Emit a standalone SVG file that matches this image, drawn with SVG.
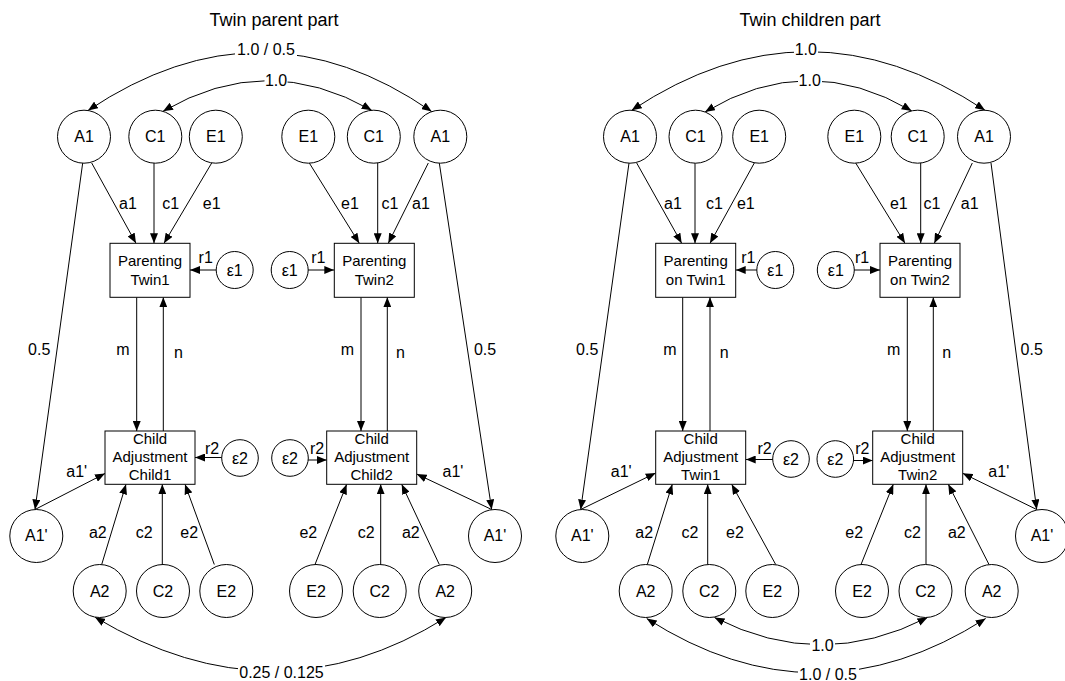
<svg xmlns="http://www.w3.org/2000/svg" width="1065" height="681" viewBox="0 0 1065 681">
  <style>
    .n { fill: #fff; stroke: #000; stroke-width: 1; }
    .c { fill: none; stroke: #000; stroke-width: 1; }
    .a { marker-end: url(#ah); }
    .b { marker-start: url(#ah); marker-end: url(#ah); }
    .bg { fill: #fff; stroke: none; }
    text { font-family: "Liberation Sans", Arial, sans-serif; fill: #000; }
    .t { font-size: 18px; text-anchor: middle; }
    .l { font-size: 16px; text-anchor: middle; }
    .bx { font-size: 15px; text-anchor: middle; }
  </style>
  <defs>
    <marker id="ah" viewBox="0 0 10 8" refX="10" refY="4" markerWidth="10" markerHeight="8" markerUnits="userSpaceOnUse" orient="auto-start-reverse">
      <path d="M0,0 L10,4 L0,8 z" fill="#000"/>
    </marker>
  </defs>

  <rect width="1065" height="681" fill="#fff"/>

  <!-- headings -->
  <text class="t" x="274" y="26">Twin parent part</text>
  <text class="t" x="810" y="26">Twin children part</text>

  <!-- paths between variables -->
  <g id="connectors">
    <!-- left model -->
    <path class="c b" d="M88,110.5 Q262,-6 431.7,111.6"/>
    <path class="c b" d="M163,111.3 Q267,50.6 371.7,110.3"/>
    <path class="c a" d="M91.7,163 L136,243.3"/>
    <path class="c a" d="M154,163 L154,243.3"/>
    <path class="c a" d="M211.7,163 L164,243.3"/>
    <path class="c a" d="M309.3,163 L359.3,243.3"/>
    <path class="c a" d="M377.7,163 L377.7,243.3"/>
    <path class="c a" d="M428.3,163 L388.3,243.3"/>
    <path class="c a" d="M82.7,163 L35,509.5"/>
    <path class="c a" d="M439.3,163 L491.7,509.5"/>
    <path class="c a" d="M216.2,270 L190,270"/>
    <path class="c a" d="M271.2,270 L334.3,270"/>
    <path class="c a" d="M136.7,297.3 L136.7,431"/>
    <path class="c a" d="M163.3,431 L163.3,297.3"/>
    <path class="c a" d="M361,297.3 L361,431"/>
    <path class="c a" d="M387.3,431 L387.3,297.3"/>
    <path class="c a" d="M221.7,457.5 L195,457.5"/>
    <path class="c a" d="M290,460 L326.7,460"/>
    <path class="c a" d="M35,509.5 L105,473.5"/>
    <path class="c a" d="M491.7,509.5 L416.7,474"/>
    <path class="c a" d="M101.7,564.5 L126,484.3"/>
    <path class="c a" d="M162.3,564.5 L162.3,484.3"/>
    <path class="c a" d="M214.3,564.5 L185,484.3"/>
    <path class="c a" d="M315,564.5 L346.7,484.3"/>
    <path class="c a" d="M380.7,564.5 L380.7,484.3"/>
    <path class="c a" d="M439.3,564.5 L401.7,484.3"/>
    <path class="c b" d="M95,617.2 Q275,724.6 446,617.5"/>

    <!-- right model -->
    <path class="c b" d="M631.7,110.3 Q808,-6.9 985,110.3"/>
    <path class="c b" d="M705,112 Q808,49.9 911.7,110.9"/>
    <path class="c a" d="M636.7,163 L681.7,243.3"/>
    <path class="c a" d="M695,163 L695,243.3"/>
    <path class="c a" d="M754.3,163 L710,243.3"/>
    <path class="c a" d="M855.7,163 L905,243.3"/>
    <path class="c a" d="M920.7,163 L920.7,243.3"/>
    <path class="c a" d="M972.3,163 L934.3,243.3"/>
    <path class="c a" d="M629,163 L580.7,509.5"/>
    <path class="c a" d="M991,163 L1036.7,509.5"/>
    <path class="c a" d="M775.3,270 L735.7,270"/>
    <path class="c a" d="M835.8,270 L880,270"/>
    <path class="c a" d="M682.7,297.3 L682.7,431"/>
    <path class="c a" d="M710,431 L710,297.3"/>
    <path class="c a" d="M907.3,297.3 L907.3,431"/>
    <path class="c a" d="M933.3,431 L933.3,297.3"/>
    <path class="c a" d="M791,459.5 L745.7,459.5"/>
    <path class="c a" d="M835.3,460.5 L872.7,460.5"/>
    <path class="c a" d="M580.7,509.5 L655.7,473"/>
    <path class="c a" d="M1036.7,509.5 L962.7,473.3"/>
    <path class="c a" d="M647.3,564.5 L672.3,484.3"/>
    <path class="c a" d="M707.7,564.5 L707.7,484.3"/>
    <path class="c a" d="M775.7,564.5 L731.7,484.3"/>
    <path class="c a" d="M861,564.5 L893.3,484.3"/>
    <path class="c a" d="M926,564.5 L926,484.3"/>
    <path class="c a" d="M989,564.5 L948.3,484.3"/>
    <path class="c b" d="M714.5,617.5 Q821,672 927.5,617.5"/>
    <path class="c b" d="M646.7,618.5 Q816,727 985.7,618.5"/>
  </g>

  <!-- left model variables -->
  <g id="L-A1a"><circle class="n" cx="84" cy="136.7" r="26.5"/><text class="l" x="84" y="142">A1</text></g>
  <g id="L-C1a"><circle class="n" cx="155.3" cy="136.7" r="26.5"/><text class="l" x="155.3" y="142">C1</text></g>
  <g id="L-E1a"><circle class="n" cx="215.8" cy="136.7" r="26.5"/><text class="l" x="215.8" y="142">E1</text></g>
  <g id="L-E1b"><circle class="n" cx="308.3" cy="136.7" r="26.5"/><text class="l" x="308.3" y="142">E1</text></g>
  <g id="L-C1b"><circle class="n" cx="373.8" cy="136.7" r="26.5"/><text class="l" x="373.8" y="142">C1</text></g>
  <g id="L-A1b"><circle class="n" cx="440.3" cy="136.7" r="26.5"/><text class="l" x="440.3" y="142">A1</text></g>
  <g id="L-P1"><rect class="n" x="110" y="243.3" width="80" height="54"/><text class="bx" x="150" y="265.5">Parenting</text><text class="bx" x="150" y="285">Twin1</text></g>
  <g id="L-P2"><rect class="n" x="334.3" y="243.3" width="80" height="54"/><text class="bx" x="374.3" y="265.5">Parenting</text><text class="bx" x="374.3" y="285">Twin2</text></g>
  <g id="L-eps1a"><circle class="n" cx="234.7" cy="270" r="18.5"/><text class="l" x="234.7" y="275.5">ε1</text></g>
  <g id="L-eps1b"><circle class="n" cx="289.7" cy="270" r="18.5"/><text class="l" x="289.7" y="275.5">ε1</text></g>
  <g id="L-CA1"><rect class="n" x="105" y="431" width="90" height="53.3"/><text class="bx" x="150" y="444.3">Child</text><text class="bx" x="150" y="462.3">Adjustment</text><text class="bx" x="150" y="480.3">Child1</text></g>
  <g id="L-CA2"><rect class="n" x="326.7" y="431" width="90" height="53.3"/><text class="bx" x="371.7" y="444.3">Child</text><text class="bx" x="371.7" y="462.3">Adjustment</text><text class="bx" x="371.7" y="480.3">Child2</text></g>
  <g id="L-eps2a"><circle class="n" cx="240" cy="458" r="18.3"/><text class="l" x="240" y="463.5">ε2</text></g>
  <g id="L-eps2b"><circle class="n" cx="290" cy="458" r="18.3"/><text class="l" x="290" y="463.5">ε2</text></g>
  <g id="L-A1pa"><circle class="n" cx="36.3" cy="536" r="26.5"/><text class="l" x="36.3" y="541.3">A1'</text></g>
  <g id="L-A1pb"><circle class="n" cx="495" cy="536" r="26.5"/><text class="l" x="495" y="541.3">A1'</text></g>
  <g id="L-A2a"><circle class="n" cx="99.7" cy="591" r="26.5"/><text class="l" x="99.7" y="596.5">A2</text></g>
  <g id="L-C2a"><circle class="n" cx="163" cy="591" r="26.5"/><text class="l" x="163" y="596.5">C2</text></g>
  <g id="L-E2a"><circle class="n" cx="226.3" cy="591" r="26.5"/><text class="l" x="226.3" y="596.5">E2</text></g>
  <g id="L-E2b"><circle class="n" cx="316" cy="591" r="26.5"/><text class="l" x="316" y="596.5">E2</text></g>
  <g id="L-C2b"><circle class="n" cx="379.7" cy="591" r="26.5"/><text class="l" x="379.7" y="596.5">C2</text></g>
  <g id="L-A2b"><circle class="n" cx="445.2" cy="591" r="26.5"/><text class="l" x="445.2" y="596.5">A2</text></g>

  <!-- right model variables -->
  <g id="R-A1a"><circle class="n" cx="630" cy="136.7" r="26.5"/><text class="l" x="630" y="142">A1</text></g>
  <g id="R-C1a"><circle class="n" cx="695.5" cy="136.7" r="26.5"/><text class="l" x="695.5" y="142">C1</text></g>
  <g id="R-E1a"><circle class="n" cx="759.2" cy="136.7" r="26.5"/><text class="l" x="759.2" y="142">E1</text></g>
  <g id="R-E1b"><circle class="n" cx="854.3" cy="136.7" r="26.5"/><text class="l" x="854.3" y="142">E1</text></g>
  <g id="R-C1b"><circle class="n" cx="917.7" cy="136.7" r="26.5"/><text class="l" x="917.7" y="142">C1</text></g>
  <g id="R-A1b"><circle class="n" cx="984" cy="136.7" r="26.5"/><text class="l" x="984" y="142">A1</text></g>
  <g id="R-P1"><rect class="n" x="655.7" y="243.3" width="80" height="54"/><text class="bx" x="695.7" y="265.5">Parenting</text><text class="bx" x="695.7" y="285">on Twin1</text></g>
  <g id="R-P2"><rect class="n" x="880" y="243.3" width="80" height="54"/><text class="bx" x="920" y="265.5">Parenting</text><text class="bx" x="920" y="285">on Twin2</text></g>
  <g id="R-eps1a"><circle class="n" cx="775.3" cy="270" r="18.5"/><text class="l" x="775.3" y="275.5">ε1</text></g>
  <g id="R-eps1b"><circle class="n" cx="835.8" cy="270" r="18.5"/><text class="l" x="835.8" y="275.5">ε1</text></g>
  <g id="R-CA1"><rect class="n" x="655.7" y="431" width="90" height="53.3"/><text class="bx" x="700.7" y="444.3">Child</text><text class="bx" x="700.7" y="462.3">Adjustment</text><text class="bx" x="700.7" y="480.3">Twin1</text></g>
  <g id="R-CA2"><rect class="n" x="872.7" y="431" width="90" height="53.3"/><text class="bx" x="917.7" y="444.3">Child</text><text class="bx" x="917.7" y="462.3">Adjustment</text><text class="bx" x="917.7" y="480.3">Twin2</text></g>
  <g id="R-eps2a"><circle class="n" cx="791" cy="459" r="18.3"/><text class="l" x="791" y="464.5">ε2</text></g>
  <g id="R-eps2b"><circle class="n" cx="835.3" cy="459" r="18.3"/><text class="l" x="835.3" y="464.5">ε2</text></g>
  <g id="R-A1pa"><circle class="n" cx="582.3" cy="536" r="26.5"/><text class="l" x="582.3" y="541.3">A1'</text></g>
  <g id="R-A1pb"><circle class="n" cx="1042" cy="536" r="26.5"/><text class="l" x="1042" y="541.3">A1'</text></g>
  <g id="R-A2a"><circle class="n" cx="645.7" cy="591" r="26.5"/><text class="l" x="645.7" y="596.5">A2</text></g>
  <g id="R-C2a"><circle class="n" cx="709.3" cy="591" r="26.5"/><text class="l" x="709.3" y="596.5">C2</text></g>
  <g id="R-E2a"><circle class="n" cx="772.3" cy="591" r="26.5"/><text class="l" x="772.3" y="596.5">E2</text></g>
  <g id="R-E2b"><circle class="n" cx="862" cy="591" r="26.5"/><text class="l" x="862" y="596.5">E2</text></g>
  <g id="R-C2b"><circle class="n" cx="925.5" cy="591" r="26.5"/><text class="l" x="925.5" y="596.5">C2</text></g>
  <g id="R-A2b"><circle class="n" cx="991.7" cy="591" r="26.5"/><text class="l" x="991.7" y="596.5">A2</text></g>

  <!-- path coefficients -->
  <g id="connector-labels">
    <rect class="bg" x="235" y="42" width="62" height="15"/>
    <text class="l" x="266" y="55">1.0 / 0.5</text>
    <rect class="bg" x="264.5" y="73" width="23" height="14"/>
    <text class="l" x="276" y="85.7">1.0</text>
    <text class="l" x="128" y="209">a1</text>
    <text class="l" x="170.8" y="209">c1</text>
    <text class="l" x="211.7" y="209">e1</text>
    <text class="l" x="350" y="209">e1</text>
    <text class="l" x="390" y="209">c1</text>
    <text class="l" x="421" y="209">a1</text>
    <text class="l" x="205.7" y="263">r1</text>
    <text class="l" x="318.3" y="263">r1</text>
    <text class="l" x="39.2" y="355">0.5</text>
    <text class="l" x="485" y="355">0.5</text>
    <text class="l" x="123" y="355">m</text>
    <text class="l" x="178.5" y="357.5">n</text>
    <text class="l" x="347.5" y="355">m</text>
    <text class="l" x="400.5" y="357.5">n</text>
    <text class="l" x="212" y="454">r2</text>
    <text class="l" x="317" y="454">r2</text>
    <text class="l" x="76.7" y="477">a1'</text>
    <text class="l" x="453" y="477">a1'</text>
    <text class="l" x="97.8" y="537.7">a2</text>
    <text class="l" x="144.2" y="537.7">c2</text>
    <text class="l" x="189.2" y="537.7">e2</text>
    <text class="l" x="308.3" y="537.7">e2</text>
    <text class="l" x="366.3" y="537.7">c2</text>
    <text class="l" x="410.8" y="537.7">a2</text>
    <rect class="bg" x="238" y="665" width="87" height="15"/>
    <text class="l" x="281.5" y="678">0.25 / 0.125</text>

    <rect class="bg" x="794" y="42" width="24" height="15"/>
    <text class="l" x="805.8" y="55">1.0</text>
    <rect class="bg" x="798" y="73" width="24" height="14"/>
    <text class="l" x="809.7" y="85.7">1.0</text>
    <text class="l" x="673" y="209">a1</text>
    <text class="l" x="714.5" y="209">c1</text>
    <text class="l" x="745.8" y="209">e1</text>
    <text class="l" x="898.8" y="209">e1</text>
    <text class="l" x="932" y="209">c1</text>
    <text class="l" x="969.7" y="209">a1</text>
    <text class="l" x="748.3" y="263">r1</text>
    <text class="l" x="862" y="263">r1</text>
    <text class="l" x="587.2" y="355">0.5</text>
    <text class="l" x="1031.7" y="355">0.5</text>
    <text class="l" x="670" y="355">m</text>
    <text class="l" x="724.2" y="357.5">n</text>
    <text class="l" x="893.7" y="355">m</text>
    <text class="l" x="946.7" y="357.5">n</text>
    <text class="l" x="764.5" y="454">r2</text>
    <text class="l" x="862.3" y="454">r2</text>
    <text class="l" x="621.2" y="477">a1'</text>
    <text class="l" x="998.8" y="477">a1'</text>
    <text class="l" x="644.2" y="537.7">a2</text>
    <text class="l" x="690" y="537.7">c2</text>
    <text class="l" x="735" y="537.7">e2</text>
    <text class="l" x="854.2" y="537.7">e2</text>
    <text class="l" x="912.5" y="537.7">c2</text>
    <text class="l" x="956.8" y="537.7">a2</text>
    <rect class="bg" x="810" y="638" width="25" height="14"/>
    <text class="l" x="822.5" y="650.5">1.0</text>
    <rect class="bg" x="798" y="667" width="61" height="14"/>
    <text class="l" x="828" y="680">1.0 / 0.5</text>
  </g>
</svg>
